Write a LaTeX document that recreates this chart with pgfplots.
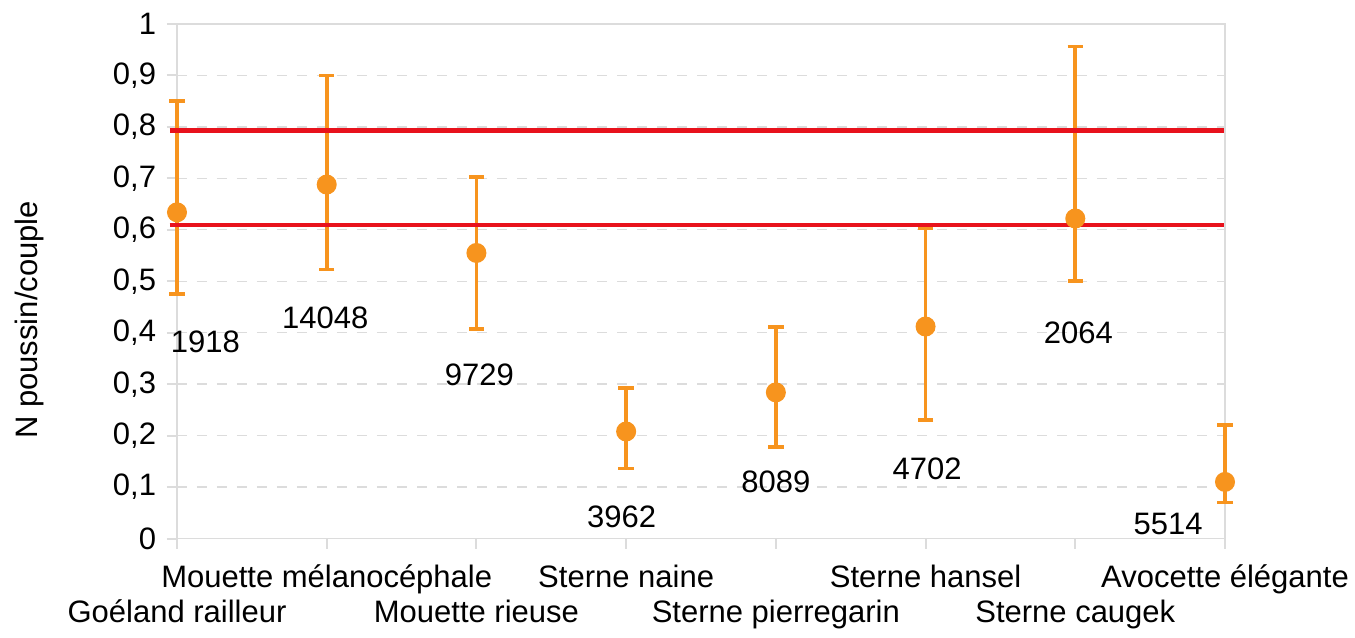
\documentclass[border=0pt]{standalone}
\usepackage{fontspec}
\setmainfont{Liberation Sans}
\usepackage{pgfplots}
\pgfplotsset{compat=1.18}
\definecolor{orng}{RGB}{247,148,30}
\definecolor{redl}{RGB}{232,18,28}
\definecolor{gridc}{RGB}{220,220,220}
\pgfplotstableread{
x y ep em
0 0.634 0.217 0.159
1 0.688 0.212 0.165
2 0.555 0.147 0.148
3 0.208 0.085 0.072
4 0.284 0.127 0.106
5 0.412 0.191 0.182
6 0.622 0.334 0.121
7 0.110 0.111 0.040
}\datatable
\begin{document}
\fontsize{9.3}{10.5}\selectfont
\begin{tikzpicture}[font=\fontsize{9.3}{10.5}\selectfont]
\useasboundingbox (-53.1pt,-29.55pt) rectangle (353.4pt,161.55pt);
\begin{axis}[
  scale only axis, width=314.4pt, height=154.35pt,
  xmin=0, xmax=7, ymin=0, ymax=1,
  clip=false,
  axis line style={gridc},
  xtick pos=bottom, ytick pos=left,
  xtick={0,1,2,3,4,5,6,7},
  xticklabels={{\strut\\Goéland railleur},{\strut Mouette mélanocéphale},{\strut\\Mouette rieuse},{\strut Sterne naine},{\strut\\Sterne pierregarin},{\strut Sterne hansel},{\strut\\Sterne caugek},{\strut Avocette élégante}},
  xticklabel style={align=center, inner sep=0pt, anchor=north, yshift=-4.1pt},
  ytick={0,0.1,0.2,0.3,0.4,0.5,0.6,0.7,0.8,0.9,1},
  yticklabels={0,{0,1},{0,2},{0,3},{0,4},{0,5},{0,6},{0,7},{0,8},{0,9},1},
  ymajorgrids, major grid style={gridc, dashed},
  tick align=outside, major tick length=3pt, tick style={gridc, line width=0.6pt},
  ylabel={N poussin/couple},
  ylabel style={at={(rel axis cs:-0.141,0.425)}, anchor=center},
]
\addplot[orng, only marks, mark=*, mark size=2.8pt,
  error bars/.cd, y dir=both, y explicit,
  error bar style={line width=1.1pt, orng},
  error mark options={orng, mark size=2.3pt, line width=1.1pt, rotate=90}]
  table[x=x, y=y, y error plus=ep, y error minus=em] {\datatable};
\addplot[redl, line width=1.3pt, forget plot] coordinates {(-0.05,0.793) (6.99,0.793)};
\addplot[redl, line width=1.3pt, forget plot] coordinates {(-0.05,0.609) (6.99,0.609)};
\node[inner sep=0pt] at (axis cs:0.19,0.383) {1918};
\node[inner sep=0pt] at (axis cs:0.99,0.428) {14048};
\node[inner sep=0pt] at (axis cs:2.02,0.318) {9729};
\node[inner sep=0pt] at (axis cs:2.97,0.042) {3962};
\node[inner sep=0pt] at (axis cs:4.00,0.110) {8089};
\node[inner sep=0pt] at (axis cs:5.01,0.136) {4702};
\node[inner sep=0pt] at (axis cs:6.02,0.400) {2064};
\node[inner sep=0pt] at (axis cs:6.62,0.028) {5514};
\end{axis}
\end{tikzpicture}
\end{document}
